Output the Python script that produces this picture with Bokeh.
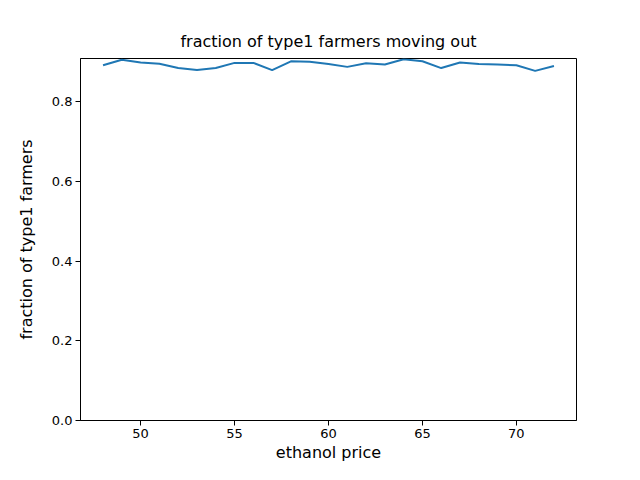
from bokeh.plotting import figure
from bokeh.models import FixedTicker, NumeralTickFormatter, Range1d
from bokeh.embed import file_html
from bokeh.resources import INLINE

prices = list(range(48, 73))
fractions = [0.891, 0.905, 0.898, 0.895, 0.884, 0.879, 0.884, 0.897, 0.897, 0.879,
             0.901, 0.900, 0.894, 0.887, 0.896, 0.893, 0.906, 0.901, 0.884, 0.898,
             0.894, 0.893, 0.891, 0.877, 0.889]
x_ticks = [50, 55, 60, 65, 70]
y_ticks = [0.0, 0.2, 0.4, 0.6, 0.8]

FONT = "DejaVu Sans"

p = figure(width=624, height=464, output_backend="svg", toolbar_location=None,
           title="fraction of type1 farmers moving out",
           x_range=Range1d(46.8, 73.2), y_range=Range1d(0, 0.908),
           min_border_left=80, min_border_right=48, min_border_top=58, min_border_bottom=0)

p.line(prices, fractions, line_color="#1f77b4", line_width=2)

p.title.align = "center"
p.title.text_font = FONT
p.title.text_font_size = "16px"
p.title.text_font_style = "normal"
p.title.text_color = "#000000"
p.title.standoff = 16

p.xgrid.visible = False
p.ygrid.visible = False
p.outline_line_color = "black"
p.outline_line_width = 1
p.outline_line_alpha = 1.0

p.xaxis.ticker = FixedTicker(ticks=x_ticks)
p.yaxis.ticker = FixedTicker(ticks=y_ticks)
p.yaxis.formatter = NumeralTickFormatter(format="0.0")
p.xaxis.axis_label = "ethanol price"
p.yaxis.axis_label = "fraction of type1 farmers"

for ax in (p.xaxis, p.yaxis):
    ax.axis_label_text_font = FONT
    ax.axis_label_text_font_size = "16px"
    ax.axis_label_text_font_style = "normal"
    ax.axis_label_text_color = "black"
    ax.major_label_text_font = FONT
    ax.major_label_text_font_size = "13px"
    ax.major_label_text_color = "black"
    ax.axis_line_color = "black"
    ax.major_tick_line_color = "black"
    ax.major_tick_out = 5
    ax.major_tick_in = 0
    ax.minor_tick_line_color = None
    ax.major_label_standoff = 3

p.xaxis.axis_label_standoff = 2
p.yaxis.axis_label_standoff = 13

p.background_fill_color = "white"
p.border_fill_color = "white"

open("out.html", "w").write(file_html(p, INLINE))
